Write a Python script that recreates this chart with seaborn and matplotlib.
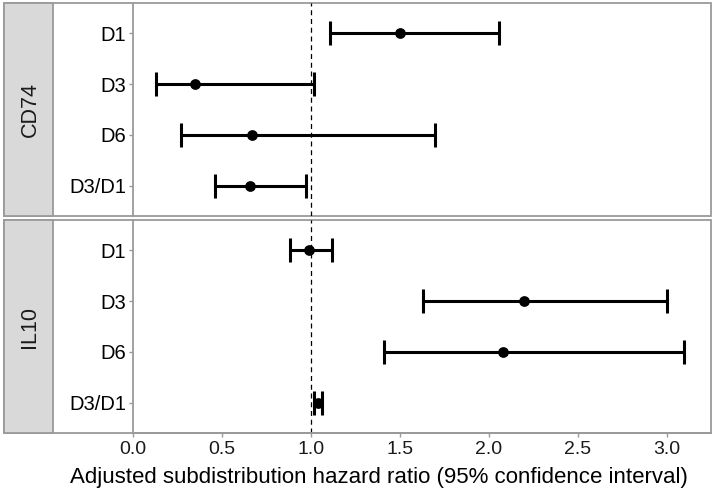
import numpy as np
import pandas as pd
import matplotlib
matplotlib.use("Agg")
import matplotlib.pyplot as plt
from matplotlib.patches import Rectangle
import seaborn as sns

# data
genes = ["CD74", "IL10"]
days = ["D1", "D3", "D6", "D3/D1"]
cd74_est = [1.50, 0.35, 0.67, 0.66]
cd74_low = [1.11, 0.13, 0.27, 0.46]
cd74_high = [2.06, 1.02, 1.70, 0.97]
il10_est = [0.99, 2.20, 2.08, 1.04]
il10_low = [0.88, 1.63, 1.41, 1.02]
il10_high = [1.12, 3.00, 3.10, 1.065]
x_ticks = [0.0, 0.5, 1.0, 1.5, 2.0, 2.5, 3.0]
x_label = "Adjusted subdistribution hazard ratio (95% confidence interval)"

frames = []
for g, est, lo, hi in [("CD74", cd74_est, cd74_low, cd74_high),
                       ("IL10", il10_est, il10_low, il10_high)]:
    frames.append(pd.DataFrame({"gene": g, "day": days, "est": est, "low": lo, "high": hi}))
df = pd.concat(frames, ignore_index=True)
df["pos"] = df["day"].map({d: i for i, d in enumerate(days)})

sns.set_style("white")
plt.rcParams["font.family"] = ["Liberation Sans", "DejaVu Sans"]

W, H = 722, 497
fig = plt.figure(figsize=(W / 100, H / 100), dpi=100)
grey = "#9A9A9A"

# panel pixel boxes (top, bottom)
panels = [(3, 216), (220, 433)]
x_left, x_right = 133, 711
box_left, strip_right = 4, 53

for i, (g, (top, bot)) in enumerate(zip(genes, panels)):
    # outer box + strip in figure coords
    fy = 1 - bot / H
    fh = (bot - top) / H
    fig.patches.append(Rectangle((box_left / W, fy), (x_right - box_left) / W, fh,
                                 transform=fig.transFigure, facecolor="white",
                                 edgecolor=grey, lw=1.3, zorder=-2))
    fig.patches.append(Rectangle((box_left / W, fy), (strip_right - box_left) / W, fh,
                                 transform=fig.transFigure, facecolor="#D9D9D9",
                                 edgecolor=grey, lw=1.3, zorder=-1))
    fig.text((box_left + strip_right) / 2 / W + 0.002, fy + fh / 2, g, rotation=90,
             ha="center", va="center", fontsize=15.5, color="#1A1A1A")

    ax = fig.add_axes([x_left / W, fy, (x_right - x_left) / W, fh])
    ax.set_facecolor("none")
    sub = df[df["gene"] == g]
    ax.axvline(1.0, color="black", lw=0.9, ls=(0, (4, 3)), zorder=1)
    ax.errorbar(sub["est"], sub["pos"],
                xerr=[sub["est"] - sub["low"], sub["high"] - sub["est"]],
                fmt="none", ecolor="black", elinewidth=2.2, capsize=8.6,
                capthick=2.2, zorder=2)
    sns.scatterplot(data=sub, x="est", y="pos", ax=ax, color="black", s=60,
                    edgecolor="black", linewidth=0, zorder=3, legend=False)

    ax.set_xlim(0, 3.25)
    ax.set_ylim(3.6, -0.6)
    ax.set_yticks(range(len(days)))
    ax.set_yticklabels(days, fontsize=14.5, color="black")
    ax.set_xticks(x_ticks)
    ax.set_xlabel("")
    ax.set_ylabel("")
    for s in ["top", "right"]:
        ax.spines[s].set_visible(False)
    ax.spines["left"].set_color(grey)
    ax.spines["left"].set_linewidth(1.3)
    ax.tick_params(axis="y", length=3, width=1, color=grey, pad=2, left=True)
    if i == 0:
        ax.spines["bottom"].set_visible(False)
        ax.tick_params(axis="x", bottom=False, labelbottom=False)
    else:
        ax.spines["bottom"].set_color(grey)
        ax.spines["bottom"].set_linewidth(1.3)
        ax.set_xticklabels([f"{t:.1f}" for t in x_ticks], fontsize=14, color="#1A1A1A")
        ax.tick_params(axis="x", length=3, width=1, color=grey, pad=3, bottom=True)

fig.text(379 / W, 1 - 477 / H, x_label, ha="center", va="center",
         fontsize=16, color="black")

fig.savefig("out.png", dpi=100)
